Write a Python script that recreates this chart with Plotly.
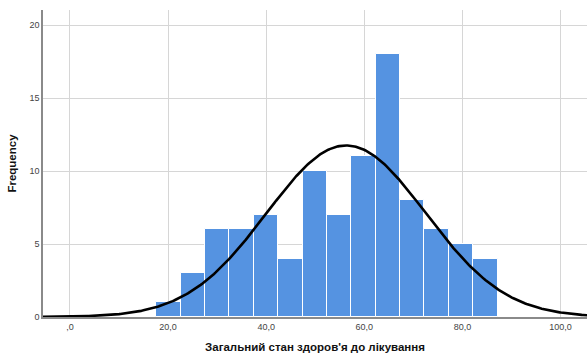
import numpy as np
import plotly.graph_objects as go

# Histogram of general health status before treatment
bin_start = 17.6
bin_width = 4.97
counts = [1, 3, 6, 6, 7, 4, 10, 7, 11, 18, 8, 6, 5, 4]

# Fitted normal curve parameters
mean_val = 56.3
std_val = 16.2
n_total = sum(counts)

x_ticks = [0, 20, 40, 60, 80, 100]
x_tick_labels = [",0", "20,0", "40,0", "60,0", "80,0", "100,0"]
y_ticks = [0, 5, 10, 15, 20]

centers = [bin_start + bin_width * (i + 0.5) for i in range(len(counts))]

xs = np.linspace(-6, 106, 400)
ys = n_total * bin_width / (std_val * np.sqrt(2 * np.pi)) * np.exp(-0.5 * ((xs - mean_val) / std_val) ** 2)

fig = go.Figure()
fig.add_trace(go.Bar(
    x=centers, y=counts, width=bin_width,
    marker=dict(color="#5593E1", line=dict(color="white", width=1)),
    showlegend=False,
))
fig.add_trace(go.Scatter(
    x=xs, y=ys, mode="lines",
    line=dict(color="black", width=2.6),
    showlegend=False,
))

fig.update_layout(
    width=587, height=354,
    margin=dict(l=43, r=0, t=10, b=37),
    paper_bgcolor="white", plot_bgcolor="white",
    font=dict(family="Liberation Sans, Arial, sans-serif", color="#333"),
    bargap=0,
    xaxis=dict(
        range=[-5.5, 105.4], tickvals=x_ticks, ticktext=x_tick_labels,
        showgrid=True, gridcolor="#d6d6d6", gridwidth=1,
        showline=True, linecolor="#8a8a8a", linewidth=1.5,
        zeroline=False, ticks="", tickfont=dict(size=9, color="#444"),
        title=dict(text="<b>Загальний стан здоров'я до лікування</b>",
                   font=dict(size=11.5, color="#111"), standoff=12),
    ),
    yaxis=dict(
        range=[0, 21.03], tickvals=y_ticks,
        showgrid=True, gridcolor="#d6d6d6", gridwidth=1,
        showline=True, linecolor="#8a8a8a", linewidth=1.5,
        zeroline=False, ticks="", tickfont=dict(size=9, color="#444"),
        title=dict(text="<b>Frequency</b>", font=dict(size=11.5, color="#111"), standoff=10),
    ),
)

fig.write_html("out.html")
